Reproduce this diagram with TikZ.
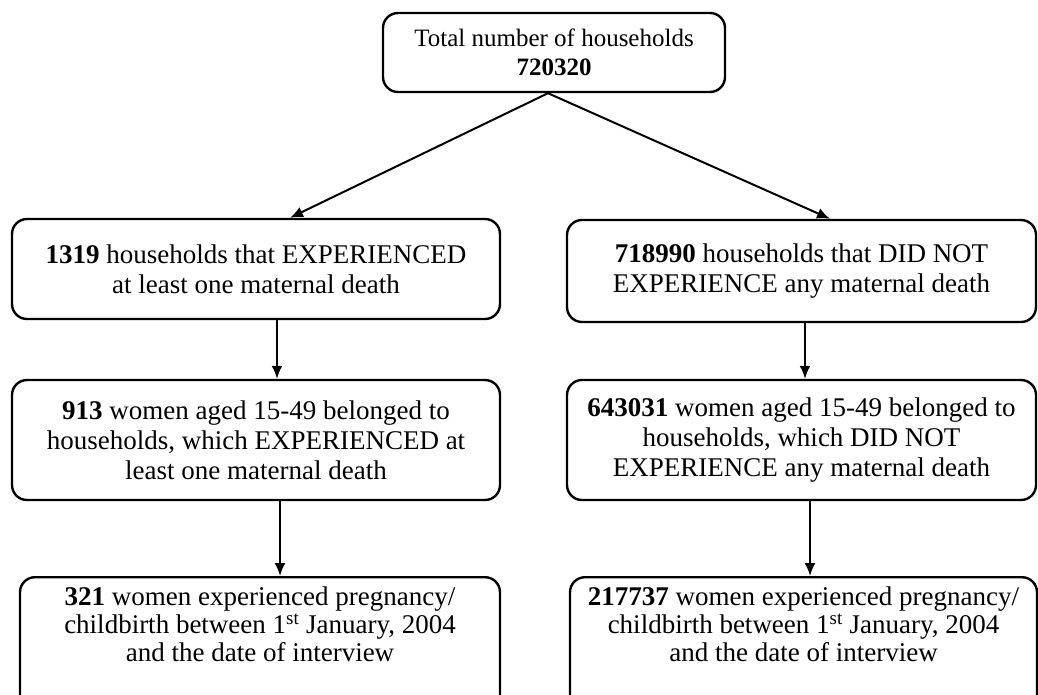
\documentclass[tikz,border=0pt]{standalone}
\usepackage{fontspec}
\setmainfont{Liberation Serif}
\usepackage{tikz}
\usetikzlibrary{arrows.meta}

\begin{document}
\begin{tikzpicture}
[every node/.style={inner sep=0pt},
 box/.style={rectangle, rounded corners=15pt, line width=2.4pt, draw=black, fill=white, align=center, font=\fontsize{27}{30}\selectfont},
 arr/.style={line width=2pt, -{Latex[length=13pt, width=11pt]}, color=black}]
\useasboundingbox (0pt, 0pt) rectangle (1038pt, -694pt);
\clip (0pt, 0pt) rectangle (1038pt, -694pt);
\node (1) [box, minimum width=342pt, minimum height=79pt, font=\fontsize{25}{29}\selectfont] at (554pt, -52.5pt) {Total number of households\\\textbf{720320}};
\node (2) [box, minimum width=488pt, minimum height=100pt] at (256pt, -269pt) {\textbf{1319} households that EXPERIENCED\\at least one maternal death};
\node (3) [box, minimum width=469pt, minimum height=102pt] at (801.5pt, -271pt) {\textbf{718990} households that DID NOT\\EXPERIENCE any maternal death};
\node (4) [box, minimum width=488pt, minimum height=120pt] at (256pt, -440pt) {\textbf{913} women aged 15-49 belonged to\\households, which EXPERIENCED at\\least one maternal death};
\node (5) [box, minimum width=469pt, minimum height=120pt] at (801.5pt, -440pt) {\textbf{643031} women aged 15-49 belonged to\\households, which DID NOT\\EXPERIENCE any maternal death};
\node (6) [box, minimum width=480pt, anchor=north, inner ysep=10pt, text depth=60pt, font=\fontsize{27}{28}\selectfont] at (260pt, -576pt) {\textbf{321} women experienced pregnancy/\\childbirth between 1\textsuperscript{st} January, 2004\\and the date of interview};
\node (7) [box, minimum width=467pt, anchor=north, inner ysep=10pt, text depth=60pt, font=\fontsize{27}{28}\selectfont] at (803.5pt, -576pt) {\textbf{217737} women experienced pregnancy/\\childbirth between 1\textsuperscript{st} January, 2004\\and the date of interview};
\draw [arr] ([xshift=-6pt]1.south) to ([xshift=34pt]2.north);
\draw [arr] ([xshift=-6pt]1.south) to ([xshift=28.5pt]3.north);
\draw [arr] ([xshift=21pt]2.south) to ([xshift=21pt]4.north);
\draw [arr] ([xshift=3.5pt]3.south) to ([xshift=3.5pt]5.north);
\draw [arr] ([xshift=24pt]4.south) to ([xshift=20pt]6.north);
\draw [arr] ([xshift=8.5pt]5.south) to ([xshift=6.5pt]7.north);
\end{tikzpicture}
\end{document}
